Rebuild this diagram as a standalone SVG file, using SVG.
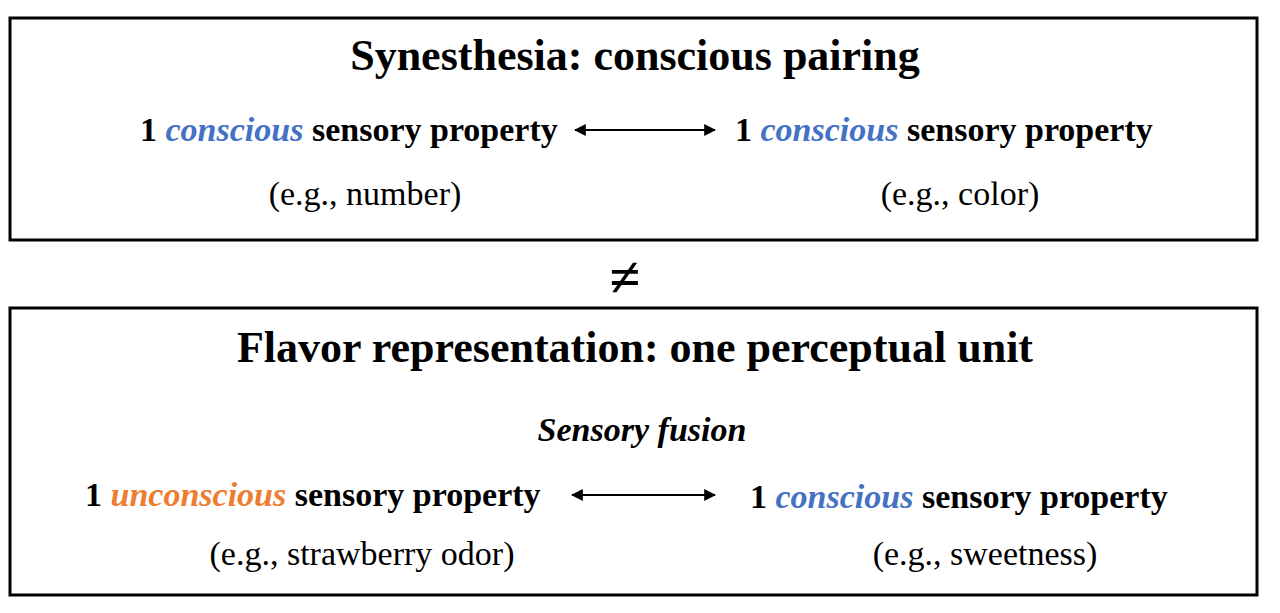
<svg xmlns="http://www.w3.org/2000/svg" width="1280" height="613" viewBox="0 0 1280 613">
<style>
text{font-family:"Liberation Serif","Times New Roman",serif;fill:#000}
.t{font-size:44px;font-weight:bold}
.p{font-size:34px;font-weight:bold}
.e{font-size:34px}
.b{fill:#4472c4;font-style:italic}
.o{fill:#ed7d31;font-style:italic}
.box{fill:#fff;stroke:#000;stroke-width:3}
.c{stroke:#000;stroke-width:2;fill:none;marker-start:url(#a);marker-end:url(#a)}
</style>
<defs><marker id="a" viewBox="0 0 10 10" refX="9" refY="5" markerWidth="6" markerHeight="6" orient="auto-start-reverse"><path d="M0,0L10,5L0,10z" fill="#000"/></marker></defs>
<rect width="1280" height="613" fill="#fff"/>
<g id="top">
<rect class="box" x="10" y="18" width="1247" height="222"/>
<text class="t" x="635" y="70" text-anchor="middle">Synesthesia: conscious pairing</text>
<text class="p" x="140" y="141">1 <tspan class="b">conscious</tspan> sensory property</text>
<text class="p" x="735" y="141">1 <tspan class="b">conscious</tspan> sensory property</text>
<text class="e" x="365" y="205" text-anchor="middle">(e.g., number)</text>
<text class="e" x="960" y="205" text-anchor="middle">(e.g., color)</text>
</g>
<g id="neq"><text x="625" y="296" text-anchor="middle" style="font-size:56px;font-weight:bold">≠</text></g>
<g id="bottom">
<rect class="box" x="10" y="308" width="1247" height="287"/>
<text class="t" x="635" y="362" text-anchor="middle">Flavor representation: one perceptual unit</text>
<text class="p" x="642" y="441" text-anchor="middle" font-style="italic">Sensory fusion</text>
<text class="p" x="85" y="506">1 <tspan class="o">unconscious</tspan> sensory property</text>
<text class="p" x="750" y="508">1 <tspan class="b">conscious</tspan> sensory property</text>
<text class="e" x="362" y="565" text-anchor="middle">(e.g., strawberry odor)</text>
<text class="e" x="985" y="565" text-anchor="middle">(e.g., sweetness)</text>
</g>
<g id="connectors">
<line class="c" x1="575" y1="130" x2="715" y2="130"/>
<line class="c" x1="572" y1="495" x2="715" y2="495"/>
</g>
</svg>
